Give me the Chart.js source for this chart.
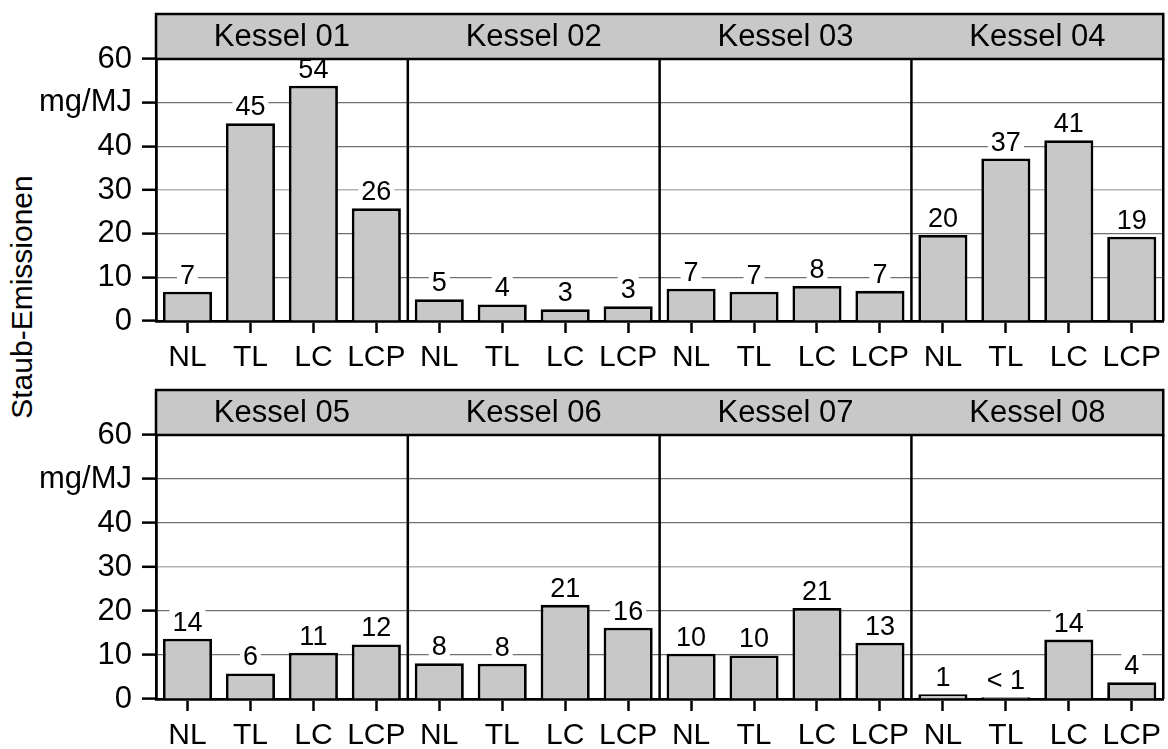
<!DOCTYPE html>
<html>
<head>
<meta charset="utf-8">
<script src="https://cdn.jsdelivr.net/npm/chart.js@4.4.1/dist/chart.umd.min.js"></script>
<style>
  body { margin: 0; background: #fff; width: 1168px; height: 749px; overflow: hidden; position: relative; }
  canvas { position: absolute; left: 0; }
  #oben { top: 0; }
  #unten { top: 376px; }
  #ytitel {
    position: absolute; left: 22px; top: 297px;
    transform: translate(-50%, -50%) rotate(-90deg);
    font: 30px "Liberation Sans", Arial, sans-serif; white-space: nowrap; color: #000;
  }
</style>
</head>
<body>
<div id="ytitel">Staub-Emissionen</div>
<canvas id="oben" width="1168" height="376"></canvas>
<canvas id="unten" width="1168" height="373"></canvas>
<script>
// Verfahren je Kessel
const verfahren = ["NL", "TL", "LC", "LCP"];
const kesselOben = ["Kessel 01", "Kessel 02", "Kessel 03", "Kessel 04"];
const kesselUnten = ["Kessel 05", "Kessel 06", "Kessel 07", "Kessel 08"];

// Staub-Emissionen in mg/MJ (NL, TL, LC, LCP)
const kessel01 = [6.7, 45.3, 53.9, 25.8];
const kessel02 = [5.0, 3.8, 2.7, 3.4];
const kessel03 = [7.4, 6.7, 8.0, 6.9];
const kessel04 = [19.7, 37.2, 41.4, 19.3];
const kessel05 = [13.7, 5.8, 10.5, 12.4];
const kessel06 = [8.1, 8.0, 21.4, 16.2];
const kessel07 = [10.3, 9.9, 20.7, 12.8];
const kessel08 = [1.1, 0.4, 13.5, 3.8];

const yTicks = [0, 10, 20, 30, 40, 50, 60];

const schrift = '"Liberation Sans", Arial, sans-serif';
Chart.defaults.font.family = schrift;
Chart.defaults.color = "#000";

function wertText(v) {
  return v < 1 ? "< 1" : String(Math.round(v));
}

const facettenPlugin = {
  id: "facetten",
  afterDatasetsDraw(chart) {
    const { ctx, chartArea: a, scales } = chart;
    const x = scales.x;
    const grenze = (i) => (x.getPixelForValue(i - 1) + x.getPixelForValue(i)) / 2;

    ctx.save();
    ctx.strokeStyle = "#000";
    ctx.lineWidth = 2.5;
    // Trennlinien zwischen den Kesseln
    [4, 8, 12].forEach((i) => {
      const px = grenze(i);
      ctx.beginPath();
      ctx.moveTo(px, a.top);
      ctx.lineTo(px, a.bottom);
      ctx.stroke();
    });
    ctx.beginPath();
    ctx.moveTo(a.right, a.top);
    ctx.lineTo(a.right, a.bottom);
    ctx.stroke();

    // Wertbeschriftungen
    ctx.font = "27px " + schrift;
    ctx.textAlign = "center";
    ctx.textBaseline = "alphabetic";
    const meta = chart.getDatasetMeta(0);
    const daten = chart.data.datasets[0].data;
    meta.data.forEach((bar, i) => {
      const t = wertText(daten[i]);
      const w = ctx.measureText(t).width;
      const base = bar.y - 8;
      ctx.fillStyle = "#fff";
      ctx.fillRect(bar.x - w / 2 - 3, base - 22, w + 6, 26);
      ctx.fillStyle = "#000";
      ctx.fillText(t, bar.x, base);
    });

    // Kopfleiste
    const kopf = chart.options.plugins.facetten.kessel;
    const h = 45;
    ctx.fillStyle = "#c8c8c8";
    ctx.fillRect(a.left, a.top - h, a.right - a.left, h);
    ctx.strokeRect(a.left, a.top - h, a.right - a.left, h);
    ctx.fillStyle = "#000";
    ctx.font = "31px " + schrift;
    ctx.textBaseline = "middle";
    kopf.forEach((name, k) => {
      const l = k === 0 ? a.left : grenze(k * 4);
      const r = k === 3 ? a.right : grenze(k * 4 + 4);
      ctx.fillText(name, (l + r) / 2, a.top - h / 2 + 1);
    });
    ctx.restore();
  },
};

function baueChart(id, kessel, werte, xHoehe) {
  const labels = [];
  kessel.forEach(() => labels.push(...verfahren));
  return new Chart(document.getElementById(id), {
    type: "bar",
    data: {
      labels: labels,
      datasets: [
        {
          data: werte,
          backgroundColor: "#c8c8c8",
          borderColor: "#000",
          borderWidth: 2.8,
          barPercentage: 0.78,
          categoryPercentage: 1,
        },
      ],
    },
    options: {
      responsive: false,
      animation: false,
      layout: { padding: { top: 59, right: 2, left: 0, bottom: 0 } },
      plugins: {
        legend: { display: false },
        tooltip: { enabled: false },
        facetten: { kessel: kessel },
      },
      scales: {
        x: {
          offset: true,
          afterFit: (s) => { s.height = xHoehe; },
          grid: { offset: false, drawOnChartArea: false, tickLength: 12, tickColor: "#000", tickWidth: 2.5 },
          border: { color: "#000", width: 2.8 },
          ticks: { font: { size: 30 }, color: "#000", padding: 7, maxRotation: 0, autoSkip: false },
        },
        y: {
          min: 0,
          max: 60,
          afterFit: (s) => { s.width = 156; },
          afterBuildTicks: (s) => { s.ticks = yTicks.map((v) => ({ value: v })); },
          grid: {
            color: (c) => (c.tick && c.tick.value === 30 ? "#b4b4b4" : "#707070"),
            lineWidth: (c) => (c.tick && c.tick.value === 30 ? 1.6 : 1.2),
            tickColor: "#000",
            tickLength: 14,
            tickWidth: 2.5,
          },
          border: { color: "#000", width: 2.8 },
          ticks: {
            font: { size: 31 },
            color: "#000",
            padding: 10,
            callback: (v) => (v === 50 ? "mg/MJ" : v),
          },
        },
      },
    },
    plugins: [facettenPlugin],
  });
}

baueChart("oben", kesselOben, [...kessel01, ...kessel02, ...kessel03, ...kessel04], 55);
baueChart("unten", kesselUnten, [...kessel05, ...kessel06, ...kessel07, ...kessel08], 50);
</script>
</body>
</html>
